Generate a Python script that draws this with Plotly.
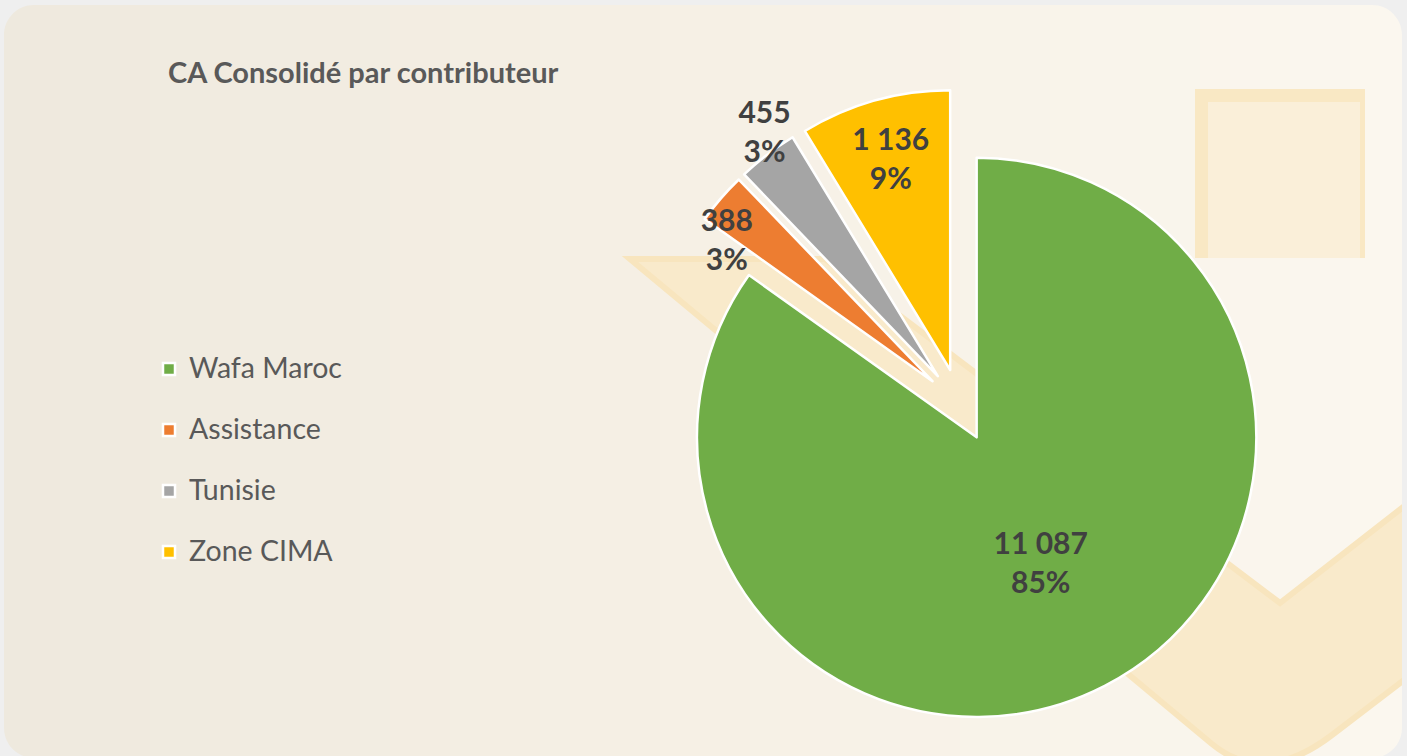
import plotly.graph_objects as go

# data
categories = ["Wafa Maroc", "Assistance", "Tunisie", "Zone CIMA"]
values = [11087, 388, 455, 1136]
colors = ["#70AD47", "#ED7D31", "#A5A5A5", "#FFC000"]
# which labels sit inside the slices, and which outside
label_positions = ["inside", "outside", "outside", "inside"]

W, H = 1407, 756


def px(x, y):
    # pixel coords -> paper coords
    return x / W, 1 - y / H


def path_from(points):
    parts = []
    for i, (x, y) in enumerate(points):
        u, v = px(x, y)
        parts.append(("M" if i == 0 else "L") + f"{u:.5f},{v:.5f}")
    return " ".join(parts) + " Z"


shapes = []

# panel background: horizontal gradient approximated with strips
stops = [(0, (238, 233, 222)), (700, (246, 240, 229)), (1407, (251, 247, 239))]


def grad(x):
    for (x0, c0), (x1, c1) in zip(stops[:-1], stops[1:]):
        if x0 <= x <= x1:
            t = (x - x0) / (x1 - x0)
            return "rgb(%d,%d,%d)" % tuple(round(a + (b - a) * t) for a, b in zip(c0, c1))
    return "rgb(%d,%d,%d)" % stops[-1][1]


step = 30
for x in range(0, W, step):
    x0, y0 = px(x, 0)
    x1, y1 = px(min(x + step + 1, W), H)
    shapes.append(dict(type="rect", xref="paper", yref="paper", x0=x0, x1=x1, y0=y1, y1=y0,
                       fillcolor=grad(x + step / 2), line_width=0, layer="below"))

# decorative chevron band
cu = lambda x, y: "%.5f,%.5f" % px(x, y)
chev = ("M" + cu(630, 259) + " L" + cu(825, 259) + " L" + cu(1280, 603) + " L" + cu(1425, 490)
        + " L" + cu(1425, 664) + " L" + cu(1332, 735) + " Q" + cu(1264, 787) + " " + cu(1212, 744) + " Z")
shapes.append(dict(type="path", xref="paper", yref="paper", path=chev,
                   fillcolor="#F9EACB", line=dict(color="#F8E5BE", width=6), layer="below"))

# decorative square
shapes.append(dict(type="path", xref="paper", yref="paper",
                   path=path_from([(1195, 89), (1365, 89), (1365, 258), (1195, 258)]),
                   fillcolor="#F9E8C4", line_width=0, layer="below"))
shapes.append(dict(type="path", xref="paper", yref="paper",
                   path=path_from([(1208, 102), (1360, 102), (1360, 258), (1208, 258)]),
                   fillcolor="#FAEFD9", line_width=0, layer="below"))

# outer frame and rounded corners of the panel
outer = "#EFEFEF"
PX0, PY0, PX1, PY1, R = 4, 5, 1402, 758, 30
k = 0.5523 * R
for pts in [[(0, 0), (W, 0), (W, PY0), (0, PY0)],
            [(0, 0), (PX0, 0), (PX0, H), (0, H)],
            [(PX1, 0), (W, 0), (W, H), (PX1, H)]]:
    shapes.append(dict(type="path", xref="paper", yref="paper", path=path_from(pts),
                       fillcolor=outer, line_width=0, layer="below"))
corners = [
    ((PX0, PY0), (PX0 + R, PY0), (PX0 + R - k, PY0), (PX0, PY0 + R - k), (PX0, PY0 + R)),
    ((PX1, PY0), (PX1 - R, PY0), (PX1 - R + k, PY0), (PX1, PY0 + R - k), (PX1, PY0 + R)),
    ((PX0, PY1), (PX0 + R, PY1), (PX0 + R - k, PY1), (PX0, PY1 - R + k), (PX0, PY1 - R)),
    ((PX1, PY1), (PX1 - R, PY1), (PX1 - R + k, PY1), (PX1, PY1 - R + k), (PX1, PY1 - R)),
]
for c, a, c1, c2, b in corners:
    p = ("M" + cu(*c) + " L" + cu(*a) + " C" + cu(*c1) + " " + cu(*c2) + " " + cu(*b) + " Z")
    shapes.append(dict(type="path", xref="paper", yref="paper", path=p,
                       fillcolor=outer, line_width=0, layer="below"))

# legend labels: larger first line, blank second line to space the entries
legend_labels = ["<span style='font-size:28.5px'>%s</span><br>\u00a0" % c for c in categories]

PULL = 0.13
label_font = dict(family="Lato", size=30, color="#404040", weight="bold")
template = "%{value:,.0f}<br>%{percent:.0%}"


def pie_domain(cx, cy, size):
    # square domain of `size` px centred on (cx, cy) px
    x0, y0 = px(cx - size / 2, cy + size / 2)
    x1, y1 = px(cx + size / 2, cy - size / 2)
    return dict(x=[x0, x1], y=[y0, y1])


# main pie: labels for the two big slices drawn inside
main_tpl = [template if p == "inside" else "" for p in label_positions]
fig = go.Figure(go.Pie(
    labels=legend_labels,
    values=values,
    sort=False,
    direction="clockwise",
    rotation=0,
    pull=PULL,
    marker=dict(colors=colors, line=dict(color="white", width=2.5)),
    texttemplate=main_tpl,
    textposition=label_positions,
    insidetextorientation="horizontal",
    textfont=label_font,
    hoverinfo="skip",
    domain=pie_domain(960, 405, 632),
))

# transparent twins carrying the outside labels, one per small slice,
# so the labels sit near their slices without leader lines
twin_domains = {"Assistance": pie_domain(954, 412, 482),
                "Tunisie": pie_domain(1002, 405, 632)}
for name, dom in twin_domains.items():
    tpl = [template if c == name else "" for c in categories]
    fig.add_trace(go.Pie(
        labels=legend_labels,
        values=values,
        sort=False,
        direction="clockwise",
        rotation=0,
        pull=PULL,
        marker=dict(colors=["rgba(0,0,0,0)"] * len(values), line=dict(width=0)),
        texttemplate=tpl,
        textposition=label_positions,
        insidetextorientation="horizontal",
        textfont=label_font,
        hoverinfo="skip",
        showlegend=False,
        domain=dom,
    ))

fig.update_layout(
    width=W, height=H,
    margin=dict(l=0, r=0, t=0, b=0, autoexpand=False),
    paper_bgcolor=outer,
    plot_bgcolor="rgba(0,0,0,0)",
    separators=", ",
    shapes=shapes,
    title=dict(text="CA Consolidé par contributeur", xref="container", yref="container",
               x=168 / W, xanchor="left", y=1 - 73 / H, yanchor="middle",
               font=dict(family="Lato", size=29, color="#595959", weight="bold")),
    legend=dict(x=149 / W, xanchor="left", y=1 - 348 / H, yanchor="top",
                valign="top", bgcolor="rgba(0,0,0,0)",
                font=dict(family="Lato", size=22.3, color="#595959")),
)

fig.write_html("out.html", config={"displayModeBar": False},
               post_script="document.body.style.margin='0';")
